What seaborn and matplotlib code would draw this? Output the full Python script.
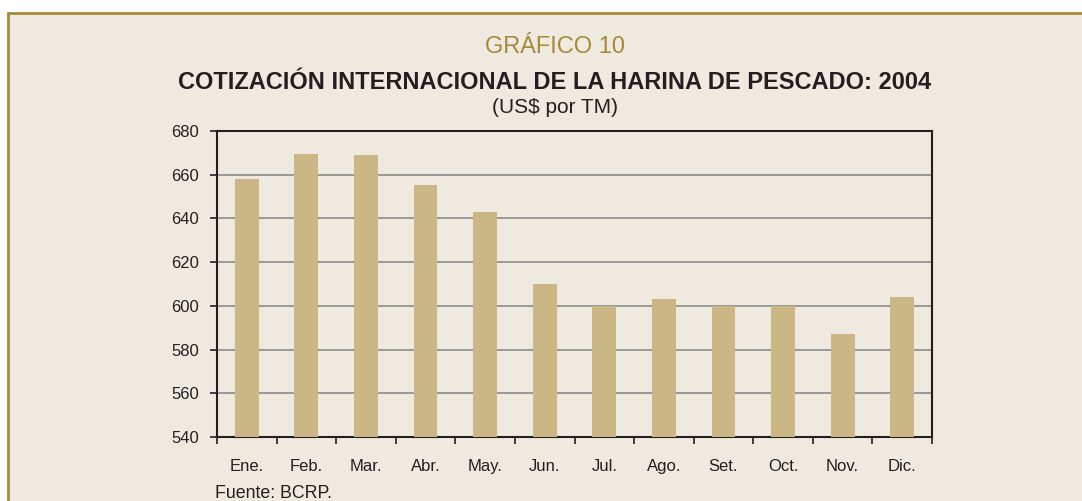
import matplotlib
matplotlib.use("Agg")
import matplotlib.pyplot as plt
import seaborn as sns
import pandas as pd
from matplotlib.patches import Rectangle
from matplotlib.lines import Line2D

months = ["Ene.", "Feb.", "Mar.", "Abr.", "May.", "Jun.", "Jul.", "Ago.", "Set.", "Oct.", "Nov.", "Dic."]
prices = [658, 669.6, 669, 655.5, 643, 610, 600, 603, 600, 600, 587, 604]
y_ticks = [540, 560, 580, 600, 620, 640, 660, 680]

BG = "#EEEAE0"
BAR = "#CBB786"
GOLD = "#A8893A"
DARK = "#231F20"

sns.set_theme(style="white")
plt.rcParams["font.family"] = ["Liberation Sans", "DejaVu Sans"]

W, H = 1082, 501
fig = plt.figure(figsize=(W / 100, H / 100), dpi=100, facecolor="white")
fig.add_artist(Rectangle((9 / W, 0), 1 - 9 / W, 1 - 14 / H, transform=fig.transFigure,
                         facecolor=BG, edgecolor="none", zorder=-10))
fig.add_artist(Line2D([8 / W, 8 / W], [0, 1 - 13 / H], transform=fig.transFigure, color=GOLD, lw=2))
fig.add_artist(Line2D([8 / W, 1], [1 - 13 / H, 1 - 13 / H], transform=fig.transFigure, color=GOLD, lw=2))

ax = fig.add_axes([217 / W, 1 - 437 / H, (932 - 217) / W, (437 - 131) / H])
ax.set_facecolor(BG)

df = pd.DataFrame({"mes": months, "precio": prices})
sns.barplot(data=df, x="mes", y="precio", order=months, color=BAR, width=0.4,
            saturation=1, ax=ax, zorder=3, linewidth=0, edgecolor="none")

ax.set_ylim(540, 680)
ax.set_xlim(-0.5, len(months) - 0.5)
ax.set_yticks(y_ticks)
ax.set_yticklabels([str(v) for v in y_ticks])
ax.yaxis.grid(True, color="#929292", lw=1.3, zorder=0)
ax.set_axisbelow(True)
ax.set_xlabel("")
ax.set_ylabel("")

ax.set_xticks(range(len(months)))
ax.set_xticks([i - 0.5 for i in range(len(months) + 1)], minor=True)
ax.tick_params(axis="x", which="major", length=0, pad=16, labelsize=12, labelcolor=DARK)
ax.tick_params(axis="x", which="minor", length=5, width=1.2, color=DARK, direction="out", bottom=True)
ax.tick_params(axis="y", which="major", length=5, width=1.2, color=DARK, direction="out", left=True,
               pad=8, labelsize=12, labelcolor=DARK)

for s in ax.spines.values():
    s.set_visible(True)
    s.set_color(DARK)
    s.set_linewidth(1.5)

cx = 555 / W
fig.text(cx, 1 - 53 / H, "GRÁFICO 10", ha="center", va="baseline", fontsize=17, color=GOLD)
fig.text(cx, 1 - 89 / H, "COTIZACIÓN INTERNACIONAL DE LA HARINA DE PESCADO: 2004", ha="center",
         va="baseline", fontsize=17, fontweight="bold", color=DARK)
fig.text(cx, 1 - 113 / H, "(US$ por TM)", ha="center", va="baseline", fontsize=15, color=DARK)
fig.text(215 / W, 1 - 498 / H, "Fuente: BCRP.", ha="left", va="baseline", fontsize=12.8, color=DARK)

fig.savefig("out.png", dpi=100, facecolor="white")
